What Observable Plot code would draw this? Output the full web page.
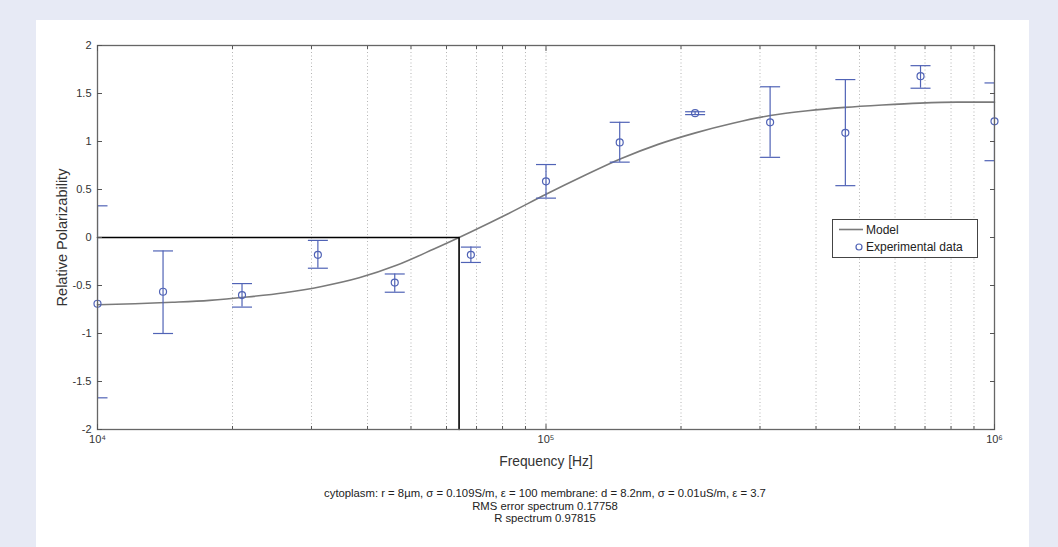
<!DOCTYPE html>
<html><head><meta charset="utf-8">
<script src="https://cdn.jsdelivr.net/npm/d3@7"></script>
<script src="https://cdn.jsdelivr.net/npm/@observablehq/plot@0.6"></script>
<style>
html,body{margin:0;padding:0;}
body{width:1058px;height:547px;background:#e7eaf5;position:relative;overflow:hidden;font-family:"Liberation Sans",Arial,sans-serif;}
#panel{position:absolute;left:36px;top:20px;width:993px;height:527px;background:#fff;}
#chart{position:absolute;left:0;top:0;}
#legend{position:absolute;left:832px;top:219px;width:144px;height:37px;border:1.5px solid #444;background:#fff;}
#caption{position:absolute;left:0;width:1090px;top:487px;text-align:center;font-size:11.3px;line-height:12.5px;color:#222;}
</style></head><body>
<div id="panel"></div>
<div id="chart"></div>
<div id="legend"></div>
<div id="caption"></div>
<script>
// Experimental data (frequency in Hz, relative polarizability, error bar low/high)
const expFreq  = [10000, 14000, 21000, 31000, 46000, 68000, 100000, 146000, 215000, 316000, 465000, 684000, 1000000];
const expValue = [-0.69, -0.565, -0.60, -0.18, -0.47, -0.18, 0.585, 0.99, 1.295, 1.20, 1.09, 1.68, 1.21];
const expLow   = [-1.67, -1.00, -0.725, -0.32, -0.57, -0.26, 0.41, 0.785, 1.28, 0.835, 0.54, 1.555, 0.80];
const expHigh  = [0.33, -0.14, -0.48, -0.03, -0.38, -0.10, 0.76, 1.20, 1.31, 1.57, 1.645, 1.79, 1.61];

// Model curve
const modelFreq  = [10000, 12115, 14678, 17783, 21544, 26102, 31623, 38312, 46416, 56234, 64000, 68129, 82540,
                    100000, 121153, 146780, 177828, 215443, 261016, 316228, 383119, 464159, 562341, 681292, 825404, 1000000];
const modelValue = [-0.70, -0.69, -0.675, -0.655, -0.62, -0.575, -0.51, -0.42, -0.29, -0.12, 0.0, 0.06, 0.25,
                    0.45, 0.64, 0.82, 0.97, 1.09, 1.19, 1.27, 1.32, 1.355, 1.38, 1.40, 1.41, 1.41];

// Crossover frequency marker (black lines)
const crossFreq = 64000;
const crossStartFreq = 10000;
const crossLevel = 0;
const crossBottom = -2;

const yTicks = [-2, -1.5, -1, -0.5, 0, 0.5, 1, 1.5, 2];
const xMajorTicks = [10000, 100000, 1000000];
const xMajorLabels = ["10⁴", "10⁵", "10⁶"];
const xMinorTicks = [20000, 30000, 40000, 50000, 60000, 70000, 80000, 90000,
                     200000, 300000, 400000, 500000, 600000, 700000, 800000, 900000];
const xGrid = [20000, 30000, 40000, 50000, 60000, 70000, 80000, 90000, 100000,
               200000, 300000, 400000, 500000, 600000, 700000, 800000, 900000];

const xLabel = "Frequency [Hz]";
const yLabel = "Relative Polarizability";
const legendLabels = ["Model", "Experimental data"];
const captionLines = [
  "cytoplasm: r = 8µm, σ = 0.109S/m, ε = 100 membrane: d = 8.2nm, σ = 0.01uS/m, ε = 3.7",
  "RMS error spectrum 0.17758",
  "R spectrum 0.97815"
];

const BLUE = "#5063b6";
const MODEL = "#7a7a7a";

const exp = expFreq.map((f, i) => ({f, v: expValue[i], lo: expLow[i], hi: expHigh[i]}));
const model = modelFreq.map((f, i) => ({f, v: modelValue[i]}));
const cross = [
  {f: crossStartFreq, v: crossLevel},
  {f: crossFreq, v: crossLevel},
  {f: crossFreq, v: crossBottom}
];
const capSymbol = {draw(ctx) { ctx.moveTo(-10, 0); ctx.lineTo(10, 0); }};
const blank = () => "";

const chart = Plot.plot({
  width: 1058,
  height: 480,
  marginLeft: 97,
  marginRight: 64,
  marginTop: 45,
  marginBottom: 51,
  style: {fontFamily: "'Liberation Sans', Arial, sans-serif", fontSize: "11px", color: "#333", background: "transparent"},
  x: {type: "log", domain: [10000, 1000000], label: null},
  y: {domain: [-2, 2], label: null},
  marks: [
    Plot.ruleX(xGrid, {stroke: "#b4b4b4", strokeDasharray: "1,2.5", strokeWidth: 1}),
    Plot.line(model, {x: "f", y: "v", stroke: MODEL, strokeWidth: 1.6, curve: "monotone-x"}),
    Plot.line(cross, {x: "f", y: "v", stroke: "#000", strokeWidth: 1.6}),
    Plot.ruleX(exp, {x: "f", y1: "lo", y2: "hi", stroke: BLUE, strokeWidth: 1.2, clip: true}),
    Plot.dot(exp, {x: "f", y: "lo", symbol: capSymbol, fill: "none", stroke: BLUE, strokeWidth: 1.2, clip: true}),
    Plot.dot(exp, {x: "f", y: "hi", symbol: capSymbol, fill: "none", stroke: BLUE, strokeWidth: 1.2, clip: true}),
    Plot.dot(exp, {x: "f", y: "v", r: 3.5, fill: "none", stroke: BLUE, strokeWidth: 1.2}),
    Plot.frame({stroke: "#666", strokeWidth: 1.3}),
    Plot.axisY(yTicks, {anchor: "left", tickSize: -5, tickPadding: 11, tickFormat: d => String(d), label: null, stroke: "#555"}),
    Plot.axisY(yTicks, {anchor: "right", tickSize: -5, tickFormat: blank, label: null, stroke: "#555"}),
    Plot.axisX(xMinorTicks, {anchor: "bottom", tickSize: -3, tickFormat: blank, label: null, stroke: "#555"}),
    Plot.axisX(xMinorTicks, {anchor: "top", tickSize: -3, tickFormat: blank, label: null, stroke: "#555"}),
    Plot.axisX(xMajorTicks, {anchor: "bottom", tickSize: -5, tickPadding: 11, tickFormat: d => xMajorLabels[xMajorTicks.indexOf(d)], label: null, stroke: "#555"}),
    Plot.axisX(xMajorTicks, {anchor: "top", tickSize: -5, tickFormat: blank, label: null, stroke: "#555"}),
    Plot.text([xLabel], {frameAnchor: "bottom", dy: 36, text: d => d, fontSize: 13.8, fill: "#333", textAnchor: "middle"}),
    Plot.text([yLabel], {frameAnchor: "left", dx: -35, rotate: -90, text: d => d, fontSize: 14.5, fill: "#333", textAnchor: "middle"})
  ]
});
document.getElementById("chart").appendChild(chart);

// Legend
const lg = d3.select("#legend").append("svg").attr("width", 144).attr("height", 37)
  .style("position", "absolute").style("left", "0").style("top", "0");
lg.append("line").attr("x1", 6).attr("x2", 30).attr("y1", 9.5).attr("y2", 9.5).attr("stroke", MODEL).attr("stroke-width", 1.6);
lg.append("circle").attr("cx", 26).attr("cy", 27).attr("r", 3).attr("fill", "none").attr("stroke", BLUE).attr("stroke-width", 1.2);
lg.selectAll("text").data(legendLabels).join("text")
  .attr("x", 33).attr("y", (d, i) => i === 0 ? 9.5 : 27)
  .attr("dominant-baseline", "central")
  .attr("font-size", 12).attr("fill", "#222")
  .attr("font-family", "'Liberation Sans', Arial, sans-serif")
  .text(d => d);

// Caption
d3.select("#caption").selectAll("div").data(captionLines).join("div").text(d => d);
</script>
</body></html>
